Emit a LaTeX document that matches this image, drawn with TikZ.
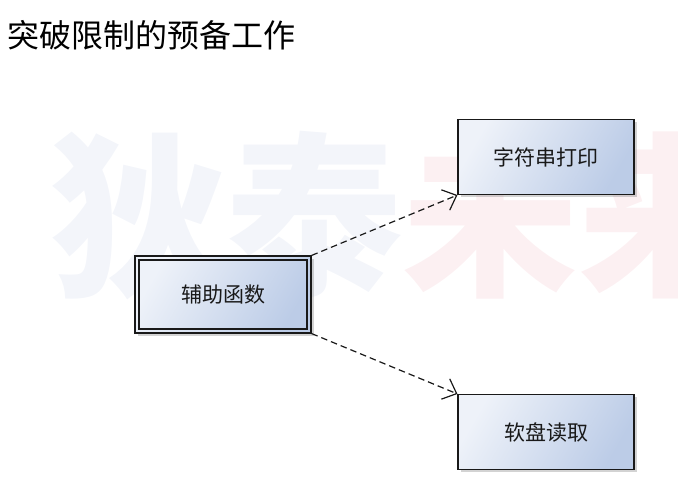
\documentclass[tikz,border=0pt]{standalone}
\usepackage{fontspec}
\setmainfont{Noto Sans CJK SC}
\newfontfamily\cjk{Noto Sans CJK SC}
\usetikzlibrary{arrows.meta,shadows}
\definecolor{wmblue}{HTML}{F3F5FA}
\definecolor{wmpink}{HTML}{FCF0F2}
\definecolor{boxlight}{HTML}{EEF2F9}
\definecolor{boxdark}{HTML}{BCCCE7}
\tikzset{
  boxnode/.style={draw=black!90, line width=1.1pt, minimum width=176pt, minimum height=75pt,
    shading=axis, left color=boxlight, right color=boxdark, shading angle=60,
    font=\cjk\fontsize{21}{25}\selectfont, text=black!90,
    drop shadow={shadow xshift=2.5pt, shadow yshift=-2.5pt, opacity=0.35, fill=black!50}},
  dep/.style={dashed, dash pattern=on 6.5pt off 4pt, line width=1.2pt, black!90,
    -{Straight Barb[length=12pt, width=22pt, line width=1.2pt]}},
  wm/.style={font=\cjk\bfseries\fontsize{176}{176}\selectfont, inner sep=0pt}
}
\begin{document}
\begin{tikzpicture}[x=1pt, y=-1pt]
\useasboundingbox (0,0) rectangle (678,500);
\begin{scope}
\clip (0,0) rectangle (678,500);
\node[wm, anchor=west, text=wmblue] (wm1) at (50,216) {狄泰};
\node[wm, anchor=west, text=wmpink] (wm2) at (wm1.east) {未来};
\end{scope}
\node[anchor=west, font=\cjk\fontsize{32}{36}\selectfont, inner sep=0pt] (title) at (7,35) {突破限制的预备工作};
\node[boxnode, minimum width=176pt, minimum height=77pt] (aux) at (223,294.5) {};
\node[draw=black!90, line width=1.1pt, minimum width=168pt, minimum height=69pt, inner sep=0pt,
  font=\cjk\fontsize{21}{25}\selectfont, text=black!90] (auxin) at (aux.center) {辅助函数};
\node[boxnode] (str) at (546,157) {字符串打印};
\node[boxnode] (disk) at (546,432) {软盘读取};
\draw[dep] (aux.north east) -- (str.south west);
\draw[dep] (aux.south east) -- (disk.north west);
\end{tikzpicture}
\end{document}
